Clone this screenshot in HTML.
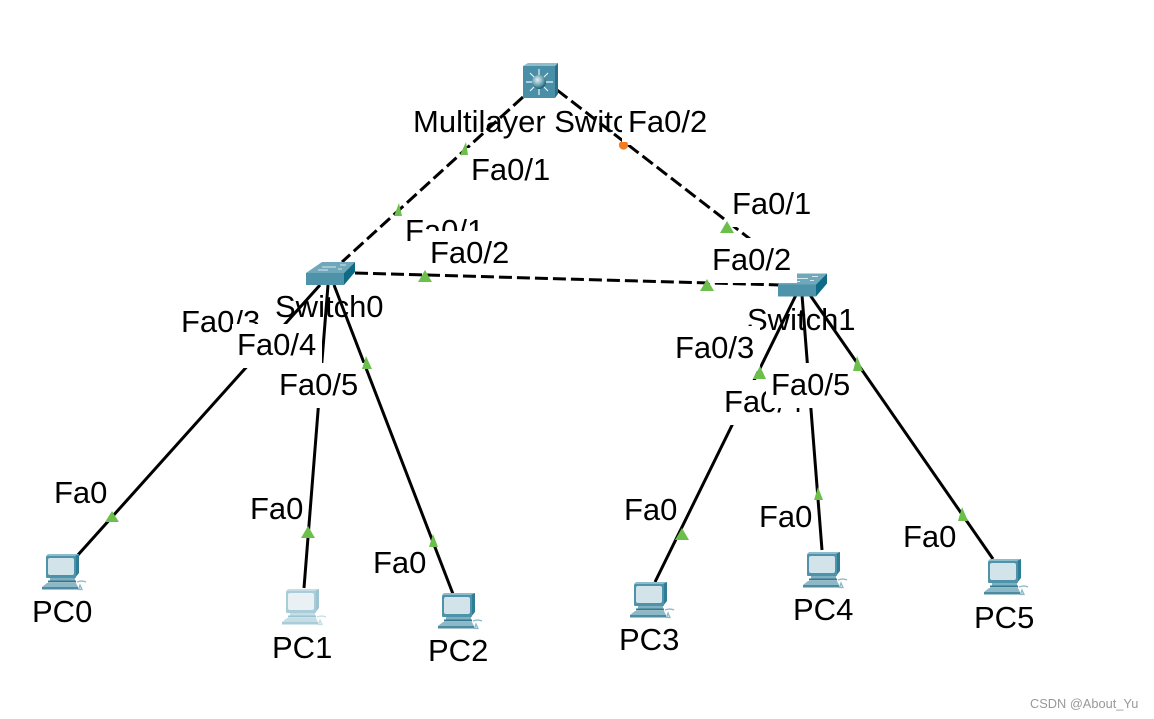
<!DOCTYPE html>
<html>
<head>
<meta charset="utf-8">
<style>
html,body{margin:0;padding:0;background:#fff;}
svg{display:block;}
text{font-family:"Liberation Sans",sans-serif;font-size:31px;fill:#000;}
</style>
</head>
<body>
<svg width="1154" height="719" viewBox="0 0 1154 719" xmlns="http://www.w3.org/2000/svg">
<defs>
<g id="pc">
  <polygon points="4,2 6,0 37,0 35,2" fill="#8fbccb"/>
  <polygon points="33,2 37,0 37,19 33,24" fill="#2f7c96"/>
  <rect x="4" y="2" width="30" height="22" rx="1" fill="#4f93aa"/>
  <rect x="6" y="4" width="26" height="17" rx="2" fill="#d3e3ea"/>
  <rect x="8" y="24" width="25" height="2.5" fill="#7fb0c1"/>
  <rect x="6" y="26.5" width="28" height="2" fill="#33788f"/>
  <polygon points="5,29 34,29 36,33 0,33" fill="#8db8c7"/>
  <rect x="0" y="33" width="36" height="2.5" fill="#4d8ba1"/>
  <path d="M35,28 q5,-2 9,0 M38,31 l2,4.5 h-3.5 z" stroke="#8db8c7" stroke-width="1.3" fill="#dfecf0"/>
</g>
<g id="pcl">
  <polygon points="4,2 6,0 37,0 35,2" fill="#c5dde5"/>
  <polygon points="33,2 37,0 37,19 33,24" fill="#9cc3d1"/>
  <rect x="4" y="2" width="30" height="22" rx="1" fill="#a9cdd8"/>
  <rect x="6" y="4" width="26" height="17" rx="2" fill="#e9f1f4"/>
  <rect x="8" y="24" width="25" height="2.5" fill="#c5dde5"/>
  <rect x="6" y="26.5" width="28" height="2" fill="#9cc3d1"/>
  <polygon points="5,29 34,29 36,33 0,33" fill="#c5dde5"/>
  <rect x="0" y="33" width="36" height="2.5" fill="#a9cdd8"/>
  <path d="M35,28 q5,-2 9,0 M38,31 l2,4.5 h-3.5 z" stroke="#c5dde5" stroke-width="1.3" fill="#eef5f7"/>
</g>
<g id="sw">
  <polygon points="306,273 322,262 355,262 344,273" fill="#6ea8ba"/>
  <path d="M322,267 h14 M340,265 h6 M318,270 h10 M338,269 h4" stroke="#d8e8ee" stroke-width="1"/>
  <polygon points="344,273 355,262 355,272 344,285" fill="#0f6a86"/>
  <rect x="306" y="273" width="38" height="12" fill="#4f93aa"/>
</g>
<radialGradient id="ball" cx="40%" cy="35%" r="65%">
  <stop offset="0" stop-color="#e6f0f3"/><stop offset="0.6" stop-color="#6da5b5"/><stop offset="1" stop-color="#1e5d70"/>
</radialGradient>
<clipPath id="orangeclip"><rect x="615" y="142" width="18" height="12"/></clipPath>
</defs>

<!-- device names under the links -->
<text x="413" y="132">Multilayer Switch0</text>
<text x="275" y="317">Switch0</text>
<text x="747" y="330">Switch1</text>

<!-- dashed links -->
<g stroke="#000" stroke-width="3" fill="none" stroke-dasharray="13 5">
  <line x1="523" y1="97" x2="342" y2="262"/>
  <line x1="557" y1="90" x2="750" y2="239"/>
  <line x1="355" y1="273" x2="780" y2="285"/>
</g>
<!-- solid links -->
<g stroke="#000" stroke-width="3" fill="none">
  <line x1="320" y1="285" x2="77" y2="556"/>
  <line x1="328" y1="285" x2="304" y2="588"/>
  <line x1="334" y1="285" x2="453" y2="594"/>
  <line x1="796" y1="295" x2="655" y2="582"/>
  <line x1="802" y1="295" x2="822" y2="550"/>
  <line x1="810" y1="295" x2="993" y2="559"/>
</g>

<!-- devices -->
<g>
  <polygon points="523,66 528,63 558,63 555,66" fill="#8ebccb"/>
  <polygon points="555,66 558,63 558,94 555,98" fill="#2a7089"/>
  <rect x="523" y="66" width="32" height="32" fill="#4a8fa8"/>
  <g stroke="#eaf3f6" stroke-width="1.2">
    <path d="M539,69 v7 M539,88 v7 M526,82 h7 M545,82 h8 M530,73 l5,5 M548,73 l-5,5 M530,91 l5,-5 M548,91 l-5,-5"/>
  </g>
  <circle cx="539" cy="82" r="7" fill="url(#ball)"/>
</g>
<use href="#sw"/>
<use href="#sw" transform="translate(472,11.5)"/>
<use href="#pc" transform="translate(42,554)"/>
<use href="#pcl" transform="translate(282,589)"/>
<use href="#pc" transform="translate(438,593)"/>
<use href="#pc" transform="translate(630,582)"/>
<use href="#pc" transform="translate(803,552)"/>
<use href="#pc" transform="translate(984,559)"/>

<!-- port labels with opaque backgrounds, in stacking order -->
<g>
  <rect x="622" y="100" width="91" height="45" fill="#fff"/><text x="628" y="132">Fa0/2</text>
  <rect x="466" y="148" width="90" height="45" fill="#fff"/><text x="471" y="180">Fa0/1</text>
  <rect x="402" y="209" width="88" height="45" fill="#fff"/><text x="405" y="241">Fa0/1</text>
  <rect x="425" y="231" width="90" height="33" fill="#fff"/><text x="430" y="263">Fa0/2</text>
  <rect x="727" y="182" width="90" height="45" fill="#fff"/><text x="732" y="214">Fa0/1</text>
  <rect x="707" y="238" width="90" height="45" fill="#fff"/><text x="712" y="270">Fa0/2</text>
  <rect x="176" y="300" width="90" height="45" fill="#fff"/><text x="181" y="332">Fa0/3</text>
  <rect x="232" y="324" width="90" height="44" fill="#fff"/><text x="237" y="355">Fa0/4</text>
  <rect x="274" y="363" width="90" height="45" fill="#fff"/><text x="279" y="395">Fa0/5</text>
  <rect x="670" y="326" width="90" height="45" fill="#fff"/><text x="675" y="358">Fa0/3</text>
  <rect x="719" y="380" width="90" height="45" fill="#fff"/><text x="724" y="412">Fa0/4</text>
  <rect x="766" y="363" width="90" height="45" fill="#fff"/><text x="771" y="395">Fa0/5</text>
</g>
<text x="54" y="503">Fa0</text>
<text x="250" y="519">Fa0</text>
<text x="373" y="573">Fa0</text>
<text x="624" y="520">Fa0</text>
<text x="759" y="527">Fa0</text>
<text x="903" y="547">Fa0</text>

<text x="32" y="622">PC0</text>
<text x="272" y="658">PC1</text>
<text x="428" y="661">PC2</text>
<text x="619" y="650">PC3</text>
<text x="793" y="620">PC4</text>
<text x="974" y="628">PC5</text>

<!-- link status markers -->
<g fill="#6cbf4b">
  <polygon points="466,142 468,155 460,155"/>
  <polygon points="399,203 402,216 394,216"/>
  <polygon points="727,221 734,233 720,233"/>
  <polygon points="425,270 432,282 418,282"/>
  <polygon points="707,279 714,291 700,291"/>
  <polygon points="366,356 372,369 362,369"/>
  <polygon points="112,511 119,522 105,522"/>
  <polygon points="308,526 315,538 301,538"/>
  <polygon points="433,534 438,547 429,547"/>
  <polygon points="760,366 766,379 753,379"/>
  <polygon points="682,528 689,540 675,540"/>
  <polygon points="818,487 823,500 814,500"/>
  <polygon points="857,356 863,371 853,371"/>
  <polygon points="962,507 968,521 958,521"/>
</g>
<circle cx="623.5" cy="145" r="4.6" fill="#f47b20" clip-path="url(#orangeclip)"/>

<text x="1030" y="708" style="font-size:12.8px;fill:#999">CSDN @About_Yu</text>
</svg>
</body>
</html>
